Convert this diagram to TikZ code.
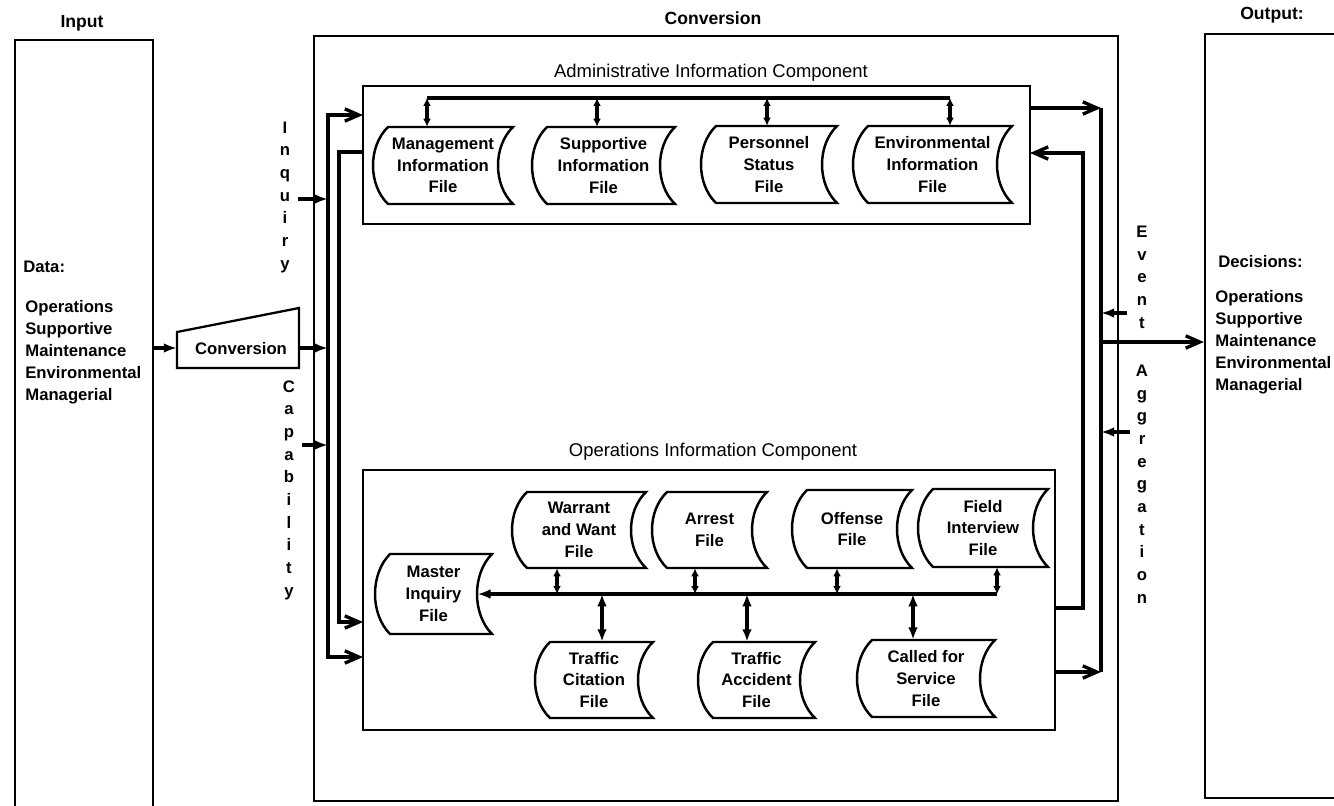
\documentclass[tikz,border=0pt]{standalone}
\usepackage{fontspec}
\setmainfont{Liberation Sans}
\usetikzlibrary{arrows.meta}
\tikzset{
  ftip/.tip={Latex[length=7.5pt,width=5.5pt]},
  otip/.tip={Straight Barb[length=8pt,width=7pt]},
  stip/.tip={Latex[length=4.5pt,width=4.5pt]},
  mtip/.tip={Latex[length=7pt,width=5.5pt]},
  box/.style={draw, line width=1.3pt, inner sep=0pt},
  fbox/.style={draw, line width=1.4pt},
  conn/.style={line width=1.9pt},
  ftext/.style={inner sep=0pt, align=center, font=\bfseries\fontsize{9.5}{12.4}\selectfont},
  lbl/.style={inner sep=0pt, font=\bfseries\fontsize{10}{12}\selectfont},
  ttl/.style={inner sep=0pt, font=\fontsize{10.5}{12}\selectfont},
  lst/.style={inner sep=0pt, align=left, font=\bfseries\fontsize{9.5}{12.6}\selectfont},
  vtxt/.style={inner sep=0pt, align=center, font=\bfseries\fontsize{9.5}{12.9}\selectfont}
}
\newcommand{\dfile}[6]{%
  \node[ftext, minimum width={(#3-#2+15)*0.02cm}, minimum height={(#5-#4)*0.02cm}] (#1) at ({(#2+#3-15)/2},{(#4+#5)/2}) {#6};
  \draw[fbox] (#2,#4) -- (#3,#4)
    .. controls ({#3-20},{#4+0.25*(#5-#4)}) and ({#3-20},{#5-0.25*(#5-#4)}) .. (#3,#5)
    -- (#2,#5)
    .. controls ({#2-20},{#5-0.25*(#5-#4)}) and ({#2-20},{#4+0.25*(#5-#4)}) .. (#2,#4) -- cycle;}
\begin{document}
\begin{tikzpicture}[x=0.02cm,y=-0.02cm]
\useasboundingbox (0,0) rectangle (1334,805);
\fill[white] (0,0) rectangle (1334,805);

% ---- big boxes
\node[box, minimum width=2.76cm, minimum height=15.5cm] (inb) at (84,427.5) {};
\node[box, minimum width=16.08cm, minimum height=15.3cm] (cvb) at (716,418.5) {};
\node[box, minimum width=2.8cm, minimum height=15.28cm] (outb) at (1275,416) {};
\node[box, minimum width=13.34cm, minimum height=2.76cm] (adm) at (696.5,155) {};
\node[box, minimum width=13.84cm, minimum height=5.2cm] (ops) at (709,600) {};

% ---- top labels
\node[lbl] (tin) at (82,23) {Input};
\node[lbl] (tcv) at (713,18) {Conversion};
\node[lbl] (tout) at (1272,15) {Output:};
\node[ttl] (atl) at (711,73) {Administrative Information Component};
\node[ttl] (otl) at (713,452) {Operations Information Component};

% ---- input / output texts
\node[lst, anchor=west] (data) at (23,267) {Data:};
\node[lst, anchor=west] (dlist) at (25,352) {Operations\\Supportive\\Maintenance\\Environmental\\Managerial};
\node[lst, anchor=west] (dec) at (1218,262) {Decisions:};
\node[lst, anchor=west] (declist) at (1215,342) {Operations\\Supportive\\Maintenance\\Environmental\\Managerial};

% ---- vertical words
\node[vtxt] (inq) at (285,197) {I\\n\\q\\u\\i\\r\\y};
\node[vtxt] (cap) at (289,490) {C\\a\\p\\a\\b\\i\\l\\i\\t\\y};
\node[vtxt] (evt) at (1142,277) {E\\v\\e\\n\\t};
\node[vtxt] (agg) at (1142,484) {A\\g\\g\\r\\e\\g\\a\\t\\i\\o\\n};

% ---- conversion trapezoid
\node[lbl, font=\bfseries\fontsize{9.5}{12}\selectfont] (conv) at (241,349) {Conversion};
\draw[box] (177,332) -- (299,308) -- (299,368) -- (177,368) -- cycle;
\coordinate (convL) at (177,348);
\coordinate (convR) at (299,348);

% ---- administrative files
\dfile{mif}{388}{513}{127}{204}{Management\\Information\\File}
\dfile{sif}{547}{675}{127}{204}{Supportive\\Information\\File}
\dfile{psf}{716}{837}{126}{203}{Personnel\\Status\\File}
\dfile{eif}{868}{1012}{126}{203}{Environmental\\Information\\File}

% ---- operations files
\dfile{wwf}{527}{646}{492}{568}{Warrant\\and Want\\File}
\dfile{arf}{667}{767}{492}{568}{Arrest\\File}
\dfile{off}{807}{912}{490}{568}{Offense\\File}
\dfile{fif}{933}{1048}{489}{567}{Field\\Interview\\File}
\dfile{mqf}{390}{492}{554}{634}{Master\\Inquiry\\File}
\dfile{tcf}{550}{653}{642}{718}{Traffic\\Citation\\File}
\dfile{taf}{713}{815}{642}{718}{Traffic\\Accident\\File}
\dfile{cfs}{872}{995}{640}{717}{Called for\\Service\\File}

% ---- administrative bus
\coordinate (ab1) at (427,98);
\coordinate (ab2) at (597,98);
\coordinate (ab3) at (767,98);
\coordinate (ab4) at (950,98);
\draw[conn] (ab1) -- (ab4);
\draw[conn,{stip}-{stip}] (ab1) -- (ab1 |- mif.north);
\draw[conn,{stip}-{stip}] (ab2) -- (ab2 |- sif.north);
\draw[conn,{stip}-{stip}] (ab3) -- (ab3 |- psf.north);
\draw[conn,{stip}-{stip}] (ab4) -- (ab4 |- eif.north);

% ---- operations bus
\coordinate (owj) at (557,594);
\coordinate (arj) at (695,594);
\coordinate (ofj) at (837,594);
\coordinate (fij) at (997,594);
\coordinate (tcj) at (602,594);
\coordinate (taj) at (747,594);
\coordinate (csj) at (913,594);
\draw[conn,-{ftip}] (fij) -- ([xshift=-0.3cm]mqf.east);
\draw[conn,{stip}-{stip}] (owj) -- (owj |- wwf.south);
\draw[conn,{stip}-{stip}] (arj) -- (arj |- arf.south);
\draw[conn,{stip}-{stip}] (ofj) -- (ofj |- off.south);
\draw[conn,{stip}-{stip}] (fij) -- (fij |- fif.south);
\draw[conn,{mtip}-{mtip}] (tcj) -- (tcj |- tcf.north);
\draw[conn,{mtip}-{mtip}] (taj) -- (taj |- taf.north);
\draw[conn,{mtip}-{mtip}] (csj) -- (csj |- cfs.north);

% ---- left connectors
\coordinate (ainL) at (363,115);
\coordinate (oinL2) at (363,657);
\coordinate (aoutL) at (363,152);
\coordinate (oinL1) at (363,622);
\coordinate (vmid) at (328,400);
\coordinate (vmid2) at (339,400);
\draw[conn,{otip}-{otip}] (ainL) -| (vmid) |- (oinL2);
\draw[conn,-{otip}] (aoutL) -| (vmid2) |- (oinL1);

\coordinate (iqs) at (298,199);
\coordinate (iqe) at (328,199);
\coordinate (cps) at (302,445);
\coordinate (cpe) at (328,445);
\coordinate (cve) at (328,348);
\draw[conn,-{ftip}] (iqs) -- (iqe);
\draw[conn,-{ftip}] (cps) -- (cpe);
\draw[conn,-{ftip}] (inb.east |- convL) -- (convL);
\draw[conn,-{ftip}] (convR) -- (cve);

% ---- right connectors
\coordinate (aoR) at (1030,108);
\coordinate (rv1) at (1101,108);
\coordinate (rv2) at (1101,672);
\coordinate (ooR) at (1055,672);
\draw[conn,-{otip}] (aoR) -- (rv1);
\draw[conn] (rv1) -- (rv2);
\draw[conn,-{otip}] (ooR) -- (rv2);

\coordinate (rvo) at (1101,342);
\draw[conn,-{otip}] (rvo) -- (outb.west |- rvo);

\coordinate (ev1) at (1127,313);
\coordinate (ev1t) at (1101,313);
\coordinate (ag1) at (1130,432);
\coordinate (ag1t) at (1101,432);
\draw[conn,-{ftip}] (ev1) -- (ev1t);
\draw[conn,-{ftip}] (ag1) -- (ag1t);

\coordinate (ooR2) at (1055,608);
\coordinate (rx2) at (1083,153);
\coordinate (aiR) at (1030,153);
\draw[conn,-{otip}] (ooR2) -| (rx2) -- (aiR);
\end{tikzpicture}
\end{document}
